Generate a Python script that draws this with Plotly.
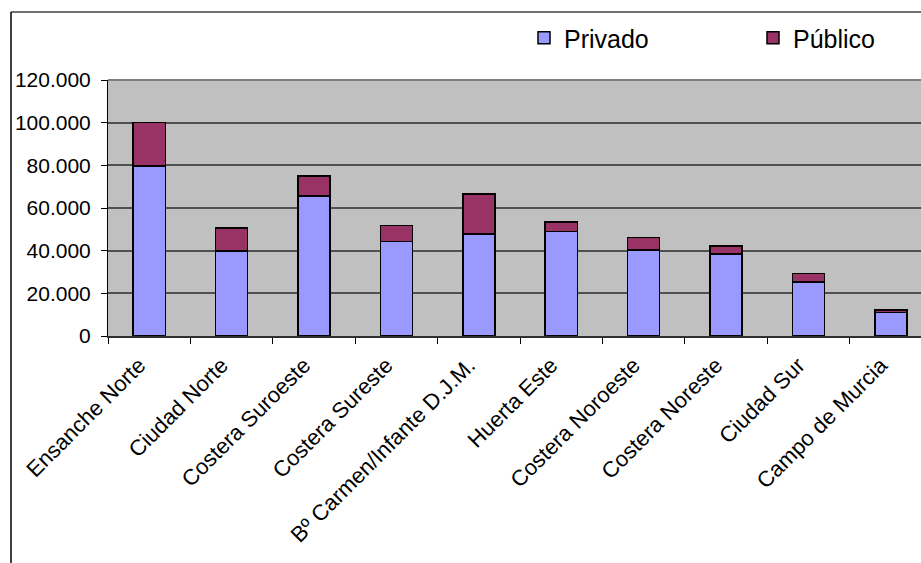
import plotly.graph_objects as go

categories = ["Ensanche Norte", "Ciudad Norte", "Costera Suroeste", "Costera Sureste",
              "Bº Carmen/Infante D.J.M.", "Huerta Este", "Costera Noroeste",
              "Costera Noreste", "Ciudad Sur", "Campo de Murcia"]
privado = [79600, 39900, 65600, 44200, 47900, 48900, 40300, 38400, 25300, 11100]
publico = [20400, 10800, 9400, 7500, 18600, 4500, 5800, 3900, 3900, 1200]
y_ticks = [0, 20000, 40000, 60000, 80000, 100000, 120000]

FONT = "Arial, Liberation Sans, sans-serif"

fig = go.Figure()
fig.add_trace(go.Bar(x=categories, y=privado, name="Privado", width=0.39,
                     marker=dict(color="#9999FF", line=dict(color="black", width=1.5))))
fig.add_trace(go.Bar(x=categories, y=publico, name="Público", width=0.39,
                     marker=dict(color="#993366", line=dict(color="black", width=1.5))))

W, H = 921, 563
L, T, B = 108, 80, 227
pw = W - L
ph = H - T - B

def px(x):
    return (x - L) / pw

def py(y):
    return (H - B - y) / ph

fig.update_layout(
    width=W, height=H,
    margin=dict(l=L, r=0, t=T, b=B),
    barmode="stack",
    paper_bgcolor="white",
    plot_bgcolor="#C0C0C0",
    separators=",.",
    font=dict(family=FONT, color="black"),
    legend=dict(orientation="h", xref="container", yref="container",
                x=524 / W, y=1 - 38 / H, xanchor="left", yanchor="middle",
                entrywidth=184, entrywidthmode="pixels",
                font=dict(size=25, family=FONT), bgcolor="rgba(0,0,0,0)",
                traceorder="normal"),
    xaxis=dict(type="category", range=[-0.5, 9.366], tickson="boundaries",
               ticks="outside", ticklen=6, tickcolor="black", tickangle=-45,
               ticklabelshift=-10, ticklabelstandoff=6,
               showline=True, linecolor="#303030", linewidth=1.5,
               tickfont=dict(size=22, family=FONT), showgrid=False),
    yaxis=dict(range=[0, 120000], tickvals=y_ticks, tickformat=",.0f",
               ticks="outside", ticklen=6, tickcolor="black",
               ticklabelstandoff=6,
               showline=True, linecolor="black", linewidth=1,
               gridcolor="#505050", gridwidth=1.5,
               tickfont=dict(size=21, family=FONT), zeroline=False),
    shapes=[
        dict(type="line", xref="paper", yref="paper", x0=0, x1=1, y0=1, y1=1,
             line=dict(color="#808080", width=2)),
        dict(type="line", xref="paper", yref="paper", x0=px(11), x1=1.01, y0=py(12), y1=py(12),
             line=dict(color="#404040", width=1.5)),
        dict(type="line", xref="paper", yref="paper", x0=px(11), x1=px(11), y0=py(12), y1=py(570),
             line=dict(color="black", width=1.5)),
    ],
)

fig.write_html("out.html")
